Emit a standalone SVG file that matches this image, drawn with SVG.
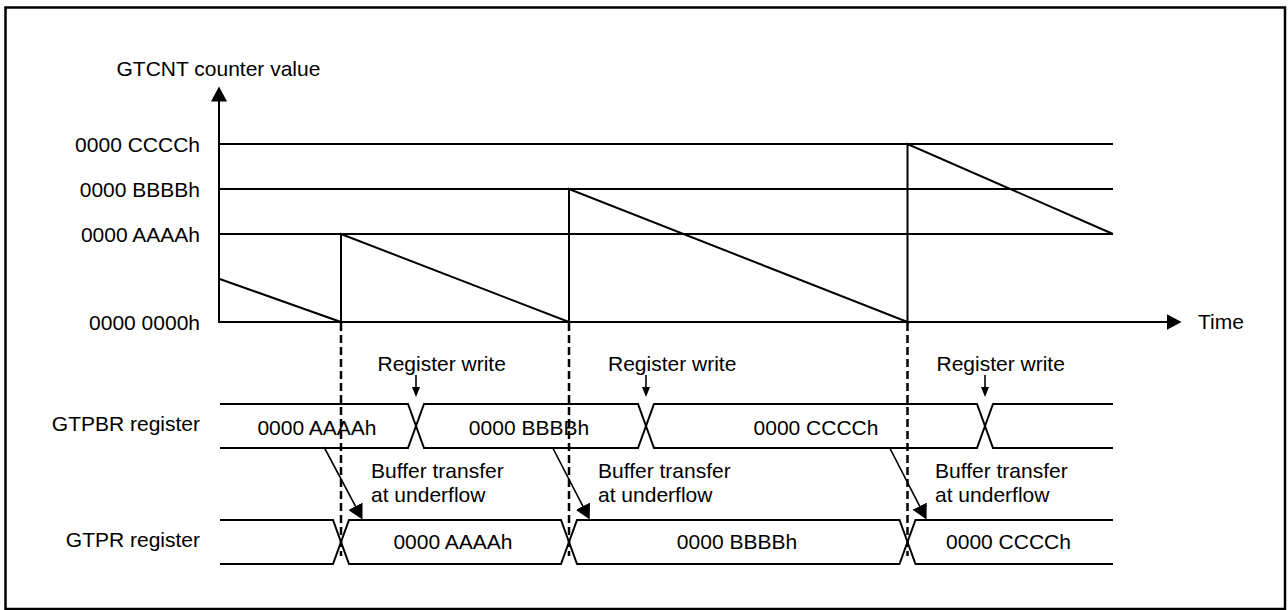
<svg xmlns="http://www.w3.org/2000/svg" width="1288" height="610" viewBox="0 0 1288 610">
<style>
  text { font-family: "Liberation Sans", Arial, sans-serif; font-size: 21px; fill: #000; }
  .ln { fill: none; stroke: #000; stroke-width: 2; }
  .thin { fill: none; stroke: #000; stroke-width: 1.6; }
  .dash { fill: none; stroke: #000; stroke-width: 2.5; stroke-dasharray: 8 4; }
  .end { text-anchor: end; }
  .mid { text-anchor: middle; }
</style>
<defs>
  <marker id="big" markerUnits="userSpaceOnUse" markerWidth="16" markerHeight="16" refX="0.5" refY="8" orient="auto">
    <path d="M0,0 L15,8 L0,16 z" fill="#000"/>
  </marker>
  <marker id="small" markerUnits="userSpaceOnUse" markerWidth="11" markerHeight="8" refX="0.5" refY="4" orient="auto">
    <path d="M0,0 L10,4 L0,8 z" fill="#000"/>
  </marker>
</defs>
<rect x="5.5" y="7.5" width="1279.5" height="601.5" fill="#fff" stroke="#000" stroke-width="2.5"/>

<g id="axes">
  <text x="116.5" y="76">GTCNT counter value</text>
  <text x="1198" y="329">Time</text>
  <text class="end" x="200" y="151.5">0000 CCCCh</text>
  <text class="end" x="200" y="196.5">0000 BBBBh</text>
  <text class="end" x="200" y="241.5">0000 AAAAh</text>
  <text class="end" x="200" y="329.5">0000 0000h</text>
  <path class="ln" d="M219,144 H1113 M219,189 H1113 M219,234 H1113"/>
</g>

<g id="counter">
  <path class="ln" d="M219,278.7 L341,322 V234 L569,322 V189 L907.5,322 V144 L1113,234"/>
</g>

<g id="gtpbr">
  <text class="end" x="200" y="430.5">GTPBR register</text>
  <path class="ln" d="M220,404 H408 L424,448 H638 L654,404 H977 L993,448 H1113"/>
  <path class="ln" d="M220,448 H408 L424,404 H638 L654,448 H977 L993,404 H1113"/>
  <text class="mid" x="317" y="435">0000 AAAAh</text>
  <text class="mid" x="529" y="435">0000 BBBBh</text>
  <text class="mid" x="816" y="435">0000 CCCCh</text>
</g>

<g id="gtpr">
  <text class="end" x="200" y="547">GTPR register</text>
  <path class="ln" d="M220,520 H333 L349,564 H561 L577,520 H899.5 L915.5,564 H1113"/>
  <path class="ln" d="M220,564 H333 L349,520 H561 L577,564 H899.5 L915.5,520 H1113"/>
  <text class="mid" x="453" y="548.5">0000 AAAAh</text>
  <text class="mid" x="737" y="548.5">0000 BBBBh</text>
  <text class="mid" x="1008.5" y="548.5">0000 CCCCh</text>
</g>

<g id="annotations">
  <text x="377.5" y="371">Register write</text>
  <text x="608" y="371">Register write</text>
  <text x="936.5" y="371">Register write</text>
  <text x="371" y="477.5">Buffer transfer</text>
  <text x="371" y="502">at underflow</text>
  <text x="598" y="477.5">Buffer transfer</text>
  <text x="598" y="502">at underflow</text>
  <text x="935" y="477.5">Buffer transfer</text>
  <text x="935" y="502">at underflow</text>
</g>

<g id="connectors">
  <line class="ln" x1="219" y1="323" x2="219" y2="101" marker-end="url(#big)"/>
  <line class="ln" x1="218" y1="322" x2="1167" y2="322" marker-end="url(#big)"/>
  <line class="dash" x1="341" y1="323" x2="341" y2="556"/>
  <line class="dash" x1="569" y1="323" x2="569" y2="556"/>
  <line class="dash" x1="907.5" y1="323" x2="907.5" y2="556"/>
  <line class="thin" x1="416" y1="375" x2="416" y2="387.5" marker-end="url(#small)"/>
  <line class="thin" x1="646" y1="375" x2="646" y2="387.5" marker-end="url(#small)"/>
  <line class="thin" x1="985" y1="375" x2="985" y2="387.5" marker-end="url(#small)"/>
  <line class="thin" x1="324" y1="447" x2="355.7" y2="506.7" marker-end="url(#big)"/>
  <line class="thin" x1="552.3" y1="447" x2="583.1" y2="506.7" marker-end="url(#big)"/>
  <line class="thin" x1="889.3" y1="447" x2="919.9" y2="506.6" marker-end="url(#big)"/>
</g>
</svg>
